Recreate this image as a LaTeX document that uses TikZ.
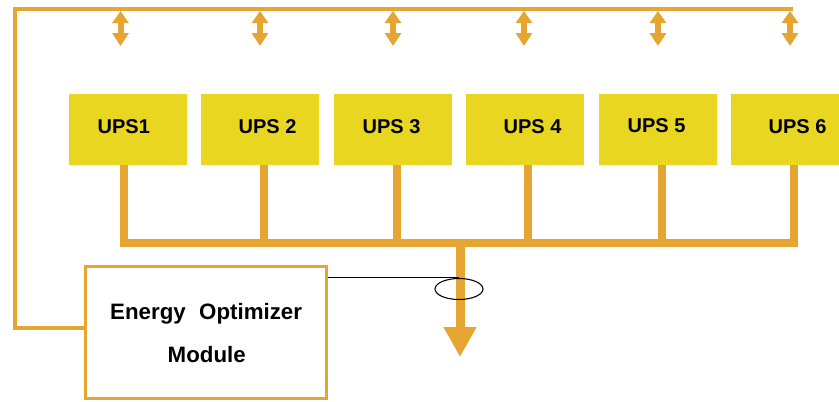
\documentclass[tikz,border=0pt]{standalone}
\usepackage{fontspec}
\setmainfont{Liberation Sans}
\usetikzlibrary{arrows.meta,shapes.geometric}
\definecolor{busc}{RGB}{229,165,48}
\definecolor{upsc}{RGB}{232,214,32}
\begin{document}
\begin{tikzpicture}[x=1pt,y=-1pt,
  upsbox/.style={fill=upsc, minimum width=118pt, minimum height=71pt, inner sep=0pt, anchor=north west, draw=none},
  upslbl/.style={font=\bfseries\fontsize{20}{20}\selectfont, anchor=base west, inner sep=0pt},
  emlbl/.style={font=\bfseries\fontsize{22.3}{22.3}\selectfont, anchor=base west, inner sep=0pt},
  busline/.style={draw=busc, line width=8pt, line join=miter},
  loopline/.style={draw=busc, line width=4pt, line join=miter},
  dblarrow/.style={draw=busc, line width=6pt, {Triangle[width=16pt,length=12pt]}-{Triangle[width=16pt,length=13pt]}},
  outarrow/.style={draw=busc, line width=9pt, -{Triangle[width=31pt,length=30pt]}},
  embox/.style={draw=busc, line width=3pt, minimum width=241pt, minimum height=132pt, inner sep=0pt},
  sensor/.style={draw=black, line width=1.1pt, ellipse, minimum width=48pt, minimum height=21pt, inner sep=0pt}
]
\useasboundingbox (0,0) rectangle (839,402);
\fill[white] (0,0) rectangle (839,402);

% UPS boxes
\node[upsbox] (u1) at (69,94) {};
\node[upsbox] (u2) at (201,94) {};
\node[upsbox] (u3) at (334,94) {};
\node[upsbox] (u4) at (466,94) {};
\node[upsbox] (u5) at (599,94) {};
\node[upsbox, minimum width=108pt] (u6) at (731,94) {};

\node[upslbl] (t1) at (97.5,133) {UPS1};
\node[upslbl] (t2) at (238.5,133) {UPS 2};
\node[upslbl] (t3) at (362.5,133) {UPS 3};
\node[upslbl] (t4) at (503.5,133) {UPS 4};
\node[upslbl] (t5) at (627.5,132) {UPS 5};
\node[upslbl] (t6) at (768.5,133) {UPS 6};

% bus coordinates
\coordinate (b1) at (124,243);
\coordinate (b2) at (264,243);
\coordinate (b3) at (397,243);
\coordinate (b4) at (528,243);
\coordinate (b5) at (662,243);
\coordinate (b6) at (794,243);
\coordinate (bo) at (460,243);
\coordinate (out) at (460,357);

\draw[busline] (u1.south -| b1) -- (b1) -- (b6) -- (u6.south -| b6);
\draw[busline] (u2.south -| b2) -- (b2);
\draw[busline] (u3.south -| b3) -- (b3);
\draw[busline] (u4.south -| b4) -- (b4);
\draw[busline] (u5.south -| b5) -- (b5);
\draw[outarrow] (bo) -- (out);

% energy optimizer module
\node[embox] (em) at (205.5,332) {};
\node[emlbl] (e1) at (110,319) {Energy\hspace{0.6em}Optimizer};
\node[emlbl] (e2) at (167.5,362) {Module};

% control loop
\coordinate (lc1) at (15,328);
\coordinate (lc2) at (15,9);
\coordinate (lc3) at (793,9);
\draw[loopline] (em.west |- lc1) -- (lc1) -- (lc2) -- (lc3);

% double arrows
\foreach \i/\x in {1/120.5,2/260,3/393,4/524,5/658,6/790}{
  \coordinate (da\i) at (\x,11);
  \coordinate (db\i) at (\x,46);
  \draw[dblarrow] (da\i) -- (db\i);
}

% sensor
\node[sensor] (el) at (459,289) {};
\draw[black, line width=1pt] (em.east |- el.north) -- (el.north);
\end{tikzpicture}
\end{document}
